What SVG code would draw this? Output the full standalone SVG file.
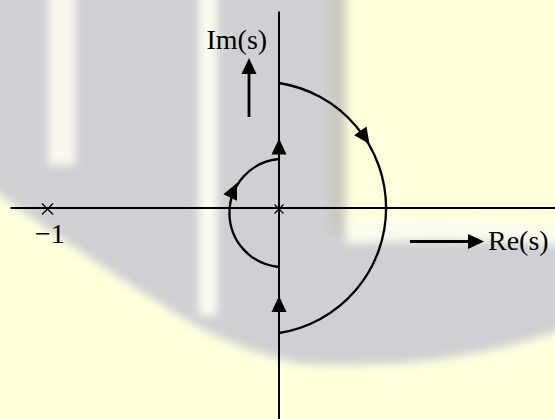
<svg xmlns="http://www.w3.org/2000/svg" xmlns:xlink="http://www.w3.org/1999/xlink" width="555" height="419" viewBox="0 0 555 419">
  <defs>
    <filter id="soft" x="-10%" y="-10%" width="120%" height="120%">
      <feGaussianBlur stdDeviation="4"/>
    </filter>
    <path id="ah" d="M0,0 L-16,-7.5 L-16,7.5 Z"/>
  </defs>
  <style>
    .ax { stroke: #000; stroke-width: 2; fill: none; }
    .arc { stroke: #000; stroke-width: 2.3; fill: none; }
    .shaft { stroke: #000; stroke-width: 2.8; fill: none; }
    .cross { stroke: #000; stroke-width: 1.2; fill: none; }
    .head { fill: #000; }
    .lbl { font-family: "Liberation Serif", "Times New Roman", serif; font-size: 28px; fill: #000; }
  </style>

  <!-- background / watermark -->
  <g id="background">
    <rect x="0" y="0" width="555" height="419" fill="#FFFFDC"/>
    <g filter="url(#soft)">
      <path d="M-10,-10 L346,-10 L346,232 Q450,226 565,242 L565,328 Q450,372 300,364 Q232,348 190,322 Q100,268 -10,188 Z" fill="#D0D0D4"/>
      <rect x="328" y="-10" width="18" height="245" fill="#CBCBC3"/>
      <rect x="49" y="-10" width="26" height="175" fill="#FCF8EE"/>
      <rect x="199" y="-10" width="18" height="325" fill="#FBFBEE"/>
      <path d="M346,222 Q450,214 565,228 L565,246 Q450,236 346,244 Z" fill="#FBFBEF"/>
    </g>
  </g>

  <!-- connectors / axes and contours -->
  <g id="connectors">
    <line class="ax" x1="10.5" y1="208" x2="555" y2="208"/>
    <line class="ax" x1="279" y1="11.5" x2="279" y2="419"/>
    <path class="arc" d="M279,83 A126.5,126.5 0 0 1 279,333"/>
    <path class="arc" d="M279,267 A54.2,54.2 0 0 1 279,159"/>
    <line class="shaft" x1="249" y1="117" x2="249" y2="70"/>
    <line class="shaft" x1="410" y1="241.5" x2="472" y2="241.5"/>
    <use class="head" href="#ah" xlink:href="#ah" transform="translate(279,138.5) rotate(-90)"/>
    <use class="head" href="#ah" xlink:href="#ah" transform="translate(279,296) rotate(-90)"/>
    <use class="head" href="#ah" xlink:href="#ah" transform="translate(249,58) rotate(-90)"/>
    <use class="head" href="#ah" xlink:href="#ah" transform="translate(484,241.5)"/>
    <use class="head" href="#ah" xlink:href="#ah" transform="translate(369.5,144) rotate(55)"/>
    <use class="head" href="#ah" xlink:href="#ah" transform="translate(237,183) rotate(-65)"/>
  </g>

  <g id="pole-origin">
    <path class="cross" d="M274.5,204.5 L283.5,213.5 M283.5,204.5 L274.5,213.5"/>
  </g>
  <g id="point-minus-one">
    <path class="cross" d="M42,203.5 L53,214.5 M53,203.5 L42,214.5"/>
    <text class="lbl" x="35" y="243">−1</text>
  </g>
  <g id="label-im">
    <text class="lbl" x="206.5" y="49">Im(s)</text>
  </g>
  <g id="label-re">
    <text class="lbl" x="488" y="250">Re(s)</text>
  </g>
</svg>
